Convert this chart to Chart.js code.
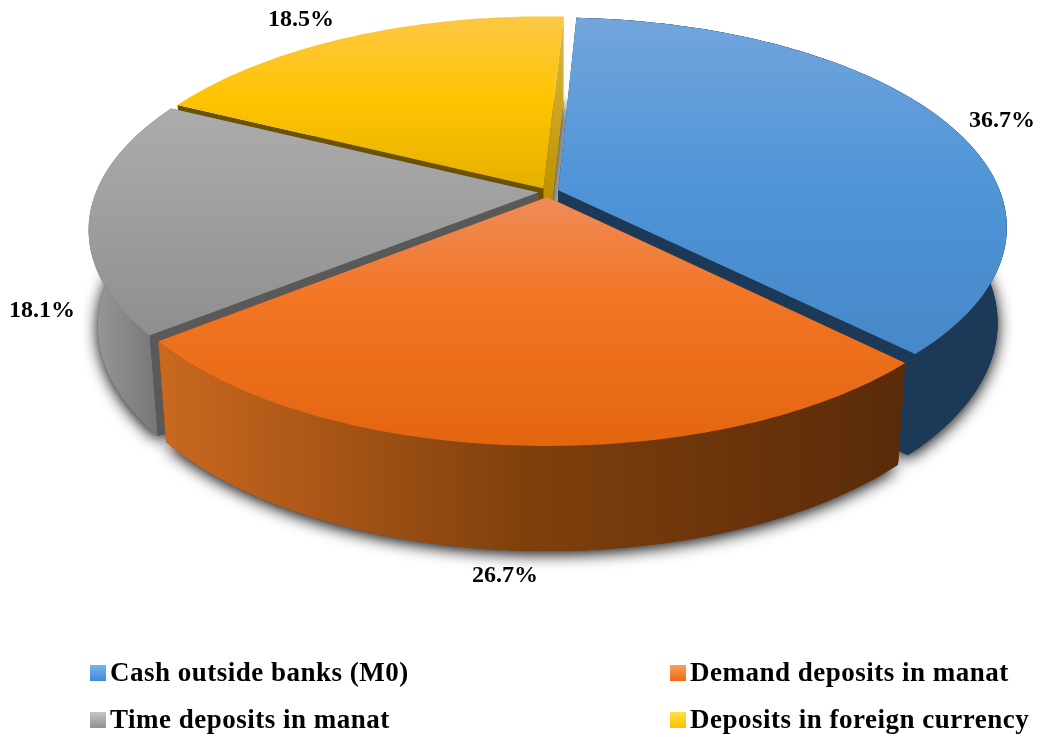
<!DOCTYPE html>
<html><head><meta charset="utf-8">
<style>html,body{margin:0;padding:0;background:#fff}canvas{display:block}</style>
<script src="https://cdn.jsdelivr.net/npm/chart.js@4"></script></head>
<body><canvas id="c" width="1040" height="737"></canvas>
<script>
const categories = ["Cash outside banks (M0)", "Demand deposits in manat", "Time deposits in manat", "Deposits in foreign currency"];
const shares = [36.7, 26.7, 18.1, 18.5];
const baseColors = ["#5B9BD5", "#ED7D31", "#A5A5A5", "#FFC000"];
const explode = [11, 11, 10, 9];
const topStops = [
  [[17,"#72a5dc"],[190,"#4e94d7"],[360,"#4688c8"]],
  [[197,"#ef8c58"],[300,"#f27524"],[447,"#e3650f"]],
  [[105,"#adadad"],[340,"#8e8e8e"]],
  [[17,"#fcc744"],[100,"#ffc400"],[192,"#e4b000"]]
];
const swatchStops = [["#78b4ee","#3f8cd2"],["#ff9c5a","#ee6b12"],["#c4c4c4","#909090"],["#ffe040","#ffc000"]];
const wallStops = [
  [[900,"#1c3a58"],[1005,"#1c3a58"]],
  [[165,"#c9681f"],[520,"#80400c"],[900,"#5a2b0a"]],
  [[90,"#9a9a9a"],[160,"#757575"]],
  null
];
const startFace = [[[0,"#1c3a58"],[1,"#1c3a58"]],[[0,"#5a2b0a"],[1,"#5a2b0a"]],[[0,"#595959"],[1,"#595959"]],[[0,"#6b5200"],[1,"#6b5200"]]];
const endFace = [[[190,"#1c3a58"],[460,"#1c3a58"]],[[190,"#7a3f10"],[460,"#7a3f10"]],[[190,"#595959"],[440,"#595959"]],[[17,"#dcb94a"],[190,"#bf9300"]]];
const labelAt = [[1002,121],[505,576],[42,311],[301,20]];
const legendAt = [[90,665],[670,665],[90,712],[670,712]];
const paintOrder = [3,2,0,1];
const view = {cx:548, cy:192, R:442, k:0.46, p:0.175, sx:0.98, sy:1.044, h:94};
const FONT = 'bold 24px "Liberation Serif"';
const LEGEND_FONT = 'bold 27px "Liberation Serif"';

function project(px, py){
  const w = 1 - view.p * py / view.R;
  return [view.cx + px / w, view.cy + view.k * py / w];
}
function lower(pt){
  return [view.cx + (pt[0]-view.cx)*view.sx, view.cy + (pt[1]-view.cy)*view.sy + view.h];
}
function sliceShape(arc){
  const a0 = arc.startAngle, a1 = arc.endAngle, mid = (a0+a1)/2;
  const d = arc.options.offset || 0;
  const ox = Math.cos(mid)*d, oy = Math.sin(mid)*d;
  const rim = [];
  const n = Math.max(8, Math.ceil((a1-a0)*180/Math.PI));
  for(let i=0;i<=n;i++){
    const a = a0 + (a1-a0)*i/n;
    rim.push(project(view.R*Math.cos(a)+ox, view.R*Math.sin(a)+oy));
  }
  return {rim, apex: project(ox, oy)};
}
function poly(ctx, pts){
  ctx.beginPath();
  pts.forEach((p,i)=> i ? ctx.lineTo(p[0],p[1]) : ctx.moveTo(p[0],p[1]));
  ctx.closePath();
}
function grad(ctx, stops, vertical){
  const a = stops[0][0], b = stops[stops.length-1][0];
  const g = vertical ? ctx.createLinearGradient(0,a,0,b) : ctx.createLinearGradient(a,0,b,0);
  stops.forEach(s=>g.addColorStop((s[0]-a)/(b-a), s[1]));
  return g;
}
const pie3d = {
  id:'pie3d',
  beforeDatasetDraw(chart){
    const ctx = chart.ctx, arcs = chart.getDatasetMeta(0).data;
    const shapes = arcs.map(sliceShape);
    ctx.save();
    ctx.shadowColor = 'rgba(0,0,0,1)'; ctx.shadowBlur = 16; ctx.shadowOffsetY = 3;
    ctx.fillStyle = '#444';
    [3,2,0,1].forEach(i=>{
      poly(ctx, [lower(shapes[i].apex)].concat(shapes[i].rim.map(lower)));
      ctx.fill();
    });
    ctx.shadowColor = 'transparent'; ctx.shadowBlur = 0; ctx.shadowOffsetY = 0;
    paintOrder.forEach(i=>{
      const {rim, apex} = shapes[i];
      const low = rim.map(lower), lowApex = lower(apex);
      if (wallStops[i]) {
        ctx.fillStyle = grad(ctx, wallStops[i], false);
        poly(ctx, rim.concat(low.slice().reverse())); ctx.fill();
      }
      ctx.fillStyle = grad(ctx, startFace[i], true);
      poly(ctx,[apex,rim[0],low[0],lowApex]); ctx.fill();
      ctx.fillStyle = grad(ctx, endFace[i], true);
      poly(ctx,[apex,rim[rim.length-1],low[low.length-1],lowApex]); ctx.fill();
      if (wallStops[i]) {
        ctx.fillStyle = grad(ctx, wallStops[i], false);
        poly(ctx, rim.concat(low.slice().reverse())); ctx.fill();
      }
      ctx.fillStyle = grad(ctx, topStops[i], true);
      poly(ctx, [apex].concat(rim)); ctx.fill();
    });
    ctx.restore();
    return false;
  },
  afterDatasetsDraw(chart){
    const ctx = chart.ctx, ds = chart.data.datasets[0];
    ctx.save();
    ctx.font = FONT; ctx.fillStyle = '#000'; ctx.textBaseline = 'middle';
    ctx.textAlign = 'center';
    ds.data.forEach((v,i)=> ctx.fillText(v.toFixed(1)+'%', labelAt[i][0], labelAt[i][1]));
    ctx.textAlign = 'left'; ctx.textBaseline = 'alphabetic';
    ctx.font = LEGEND_FONT;
    try { ctx.letterSpacing = '0.5px'; } catch(e){}
    chart.data.labels.forEach((t,i)=>{
      const [x,y] = legendAt[i];
      const g = ctx.createLinearGradient(0,y,0,y+16);
      g.addColorStop(0, swatchStops[i][0]); g.addColorStop(1, swatchStops[i][1]);
      ctx.fillStyle = g; ctx.fillRect(x,y,16,16);
      ctx.fillStyle = '#000';
      ctx.fillText(t, x+20, y+16);
    });
    ctx.restore();
  }
};
new Chart(document.getElementById('c'),{
  type:'pie',
  data:{labels:categories,datasets:[{data:shares,backgroundColor:baseColors,offset:explode,borderWidth:0}]},
  options:{responsive:false,animation:false,rotation:3,
    plugins:{legend:{display:false},tooltip:{enabled:false}}},
  plugins:[pie3d]
});
</script></body></html>
